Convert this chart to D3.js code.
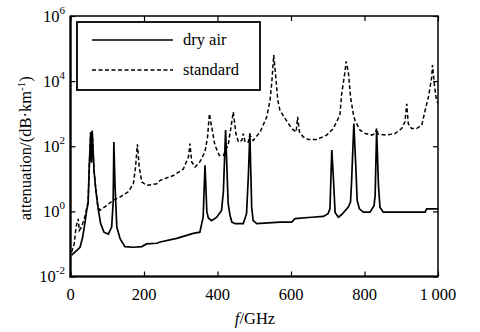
<!DOCTYPE html>
<html><head><meta charset="utf-8">
<script src="https://cdn.jsdelivr.net/npm/d3@7"></script>
<style>
body{margin:0;background:#fff;}
svg{display:block;}
</style></head>
<body><svg id="c" width="480" height="332" font-family="Liberation Serif"></svg>
<script>
const dryFreq = [3,12,26,33,39,44,48,51,55,57,59,64,69,76,82,91,103,112,116,118,121,126,135,148,171,194,207,235,244,289,334,352,361,366,371,375,384,398,411,416,422,426,429,434,439,448,470,479,484,488,493,497,507,570,602,611,656,688,701,706,711,715,720,729,738,756,762,765,771,777,780,786,797,815,826,829,833,838,842,851,965,969,1000];
const dryVals = [0.045,0.056,0.079,0.16,0.42,1.07,1.8,23,275,32,300,18,4.5,1.07,0.42,0.23,0.2,0.33,1.8,135,7,0.33,0.145,0.083,0.079,0.083,0.1,0.105,0.115,0.148,0.21,0.23,0.68,26,1.0,0.63,0.52,0.66,1.07,4,316,16,1.74,0.76,0.47,0.42,0.42,0.85,12.6,250,1.35,0.52,0.42,0.47,0.47,0.6,0.66,0.7,0.85,1.2,76,12.6,0.93,0.66,0.8,1.35,1.95,9,500,16,2.2,1.2,0.95,0.95,1.5,3.1,316,6.3,1.35,0.95,0.95,1.2,1.2];

const stdFreq = [3,10,15,21,24,30,39,44,48,51,55,57,59,64,69,74,80,98,116,135,157,171,177,182,187,194,207,235,244,280,307,321,325,330,339,352,366,373,378,384,393,405,416,423,429,434,443,450,457,466,470,475,484,488,497,516,534,543,548,553,558,564,570,584,602,614,618,623,633,647,670,697,715,733,738,747,750,756,762,770,774,788,802,820,830,833,837,860,883,901,910,915,919,928,942,956,965,974,978,983,985,989,992,996,1000];
const stdVals = [0.056,0.1,0.33,0.59,0.26,0.33,0.68,1.25,2,23,275,32,300,18,4.5,1.5,1.07,1.5,2.2,2.75,4,7,23,115,23,8,6.3,7,9,12.6,20,47,120,33,23,33,68,195,1000,400,107,52,52,80,107,245,1120,245,135,150,245,135,135,220,150,275,800,2600,10000,63000,16000,2600,1260,710,350,275,800,275,195,160,160,220,350,900,4200,19500,40000,19500,3300,900,630,310,245,220,250,350,235,220,245,350,560,2000,500,350,350,450,1260,3300,6000,13500,31000,10700,5200,2600,2100];

const xTicks = [0,200,400,600,800,1000];
const xTickLabels = ["0","200","400","600","800","1\u2009000"];
const yTicks = [1e-2,1e0,1e2,1e4,1e6];
const yTickExp = ["-2","0","2","4","6"];
const seriesNames = ["dry air","standard"];

const FONT = "Liberation Serif";
const svg = d3.select("#c");
const L=70.5, R=438, T=16, B=276.5;
const x = d3.scaleLinear().domain([0,1000]).range([L,R]);
const y = d3.scaleLog().domain([1e-2,1e6]).range([B,T]);

svg.append("clipPath").attr("id","cl").append("rect")
  .attr("x",L).attr("y",T).attr("width",R-L).attr("height",B-T);

const line = d3.line().x(d=>x(d[0])).y(d=>y(d[1]));
const dry = dryFreq.map((f,i)=>[f,dryVals[i]]);
const std = stdFreq.map((f,i)=>[f,stdVals[i]]);

const g = svg.append("g").attr("clip-path","url(#cl)");
g.append("path").attr("d",line(std)).attr("fill","none").attr("stroke","#000")
  .attr("stroke-width",1.5).attr("stroke-dasharray","4,2.5");
g.append("path").attr("d",line(dry)).attr("fill","none").attr("stroke","#000")
  .attr("stroke-width",1.7);

// frame
svg.append("rect").attr("x",L).attr("y",T).attr("width",R-L).attr("height",B-T)
  .attr("fill","none").attr("stroke","#000").attr("stroke-width",1.5);
svg.append("line").attr("x1",L).attr("x2",L).attr("y1",T).attr("y2",B+1).attr("stroke","#000").attr("stroke-width",2.2);
svg.append("line").attr("x1",L-1).attr("x2",R).attr("y1",B).attr("y2",B).attr("stroke","#000").attr("stroke-width",2.2);

// axes with inward ticks
const xAxisB = d3.axisBottom(x).tickValues(xTicks).tickSizeInner(-5).tickSizeOuter(0).tickFormat("");
const xAxisT = d3.axisTop(x).tickValues(xTicks).tickSizeInner(-5).tickSizeOuter(0).tickFormat("");
const yAxisL = d3.axisLeft(y).tickValues(yTicks).tickSizeInner(-5).tickSizeOuter(0).tickFormat("");
const yAxisR = d3.axisRight(y).tickValues(yTicks).tickSizeInner(-5).tickSizeOuter(0).tickFormat("");
[[xAxisB,`translate(0,${B})`],[xAxisT,`translate(0,${T})`],[yAxisL,`translate(${L},0)`],[yAxisR,`translate(${R},0)`]].forEach(([a,t])=>{
  const ax = svg.append("g").attr("transform",t).call(a);
  ax.select(".domain").remove();
  ax.selectAll("line").attr("stroke","#000").attr("stroke-width",1.2);
});

// x tick labels
svg.append("g").selectAll("text").data(xTicks).join("text")
  .attr("x",d=>x(d)).attr("y",300).attr("text-anchor","middle")
  .attr("font-family",FONT).attr("font-size",16.5).text((d,i)=>xTickLabels[i]);

// y tick labels
const yl = svg.append("g").selectAll("text").data(yTicks).join("text")
  .attr("x",65).attr("y",d=>y(d)+5.5).attr("text-anchor","end")
  .attr("font-family",FONT).attr("font-size",16.5);
yl.append("tspan").text("10");
yl.append("tspan").attr("dy",-8).attr("font-size",11).text((d,i)=>yTickExp[i]);

// axis titles
const xt = svg.append("text").attr("x",255).attr("y",324).attr("text-anchor","middle")
  .attr("font-family",FONT).attr("font-size",16.5);
xt.append("tspan").attr("font-style","italic").text("f");
xt.append("tspan").text("/GHz");

const yt = svg.append("text").attr("transform",`translate(31,${(T+B)/2+2}) rotate(-90)`)
  .attr("text-anchor","middle").attr("font-family",FONT).attr("font-size",16.5);
yt.append("tspan").text("attenuation/(dB\u00B7km");
yt.append("tspan").attr("dy",-6).attr("font-size",11).text("-1");
yt.append("tspan").attr("dy",6).text(")");

// legend
const lg = svg.append("g");
lg.append("rect").attr("x",77).attr("y",22).attr("width",183).attr("height",68)
  .attr("fill","#fff").attr("stroke","#000").attr("stroke-width",1.8);
seriesNames.forEach((n,i)=>{
  const yy = 40 + i*30;
  lg.append("line").attr("x1",92).attr("x2",173).attr("y1",yy).attr("y2",yy)
    .attr("stroke","#000").attr("stroke-width",i===0?1.7:1.5)
    .attr("stroke-dasharray",i===0?null:"4,2.5");
  lg.append("text").attr("x",183).attr("y",yy+5).attr("font-family",FONT)
    .attr("font-size",16.5).text(n);
});
</script></body></html>
